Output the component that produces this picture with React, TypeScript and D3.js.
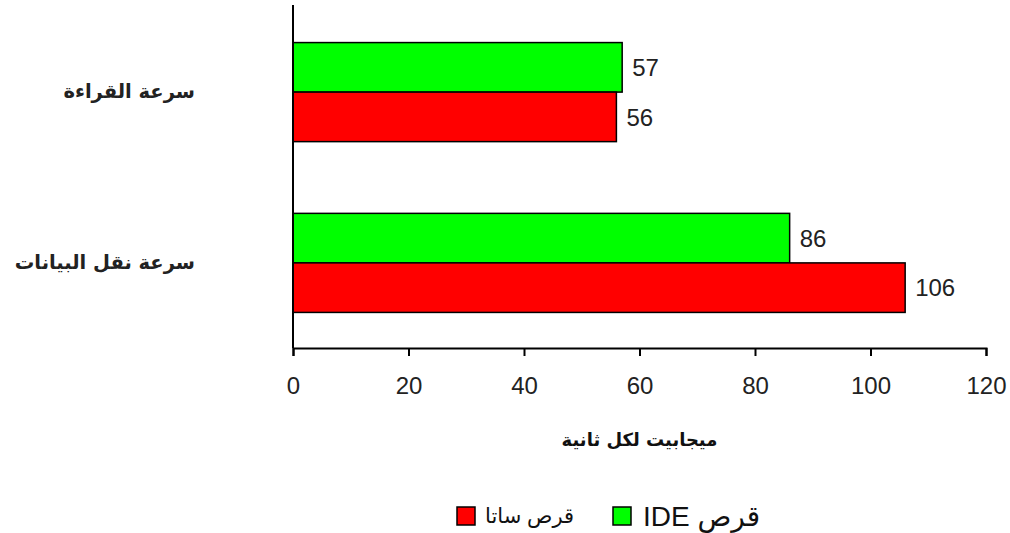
import React, { useEffect, useRef } from 'react';
import * as d3 from 'd3';

// categories (top to bottom)
const categories = ['سرعة القراءة', 'سرعة نقل البيانات'];
// series
const seriesNames = ['قرص IDE', 'قرص ساتا'];
const ideValues = [57, 86];
const sataValues = [56, 106];
const seriesColors = ['#00ff00', '#ff0000'];
const xTicks = [0, 20, 40, 60, 80, 100, 120];
const xTitle = 'ميجابيت لكل ثانية';

export default function App() {
  const svgRef = useRef<SVGSVGElement | null>(null);

  useEffect(() => {
    document.body.style.margin = '0';
    const width = 1010;
    const height = 533;
    const margin = { top: 5, right: 24, bottom: 185, left: 293 };
    const font = "'Liberation Sans', Arial, 'DejaVu Sans', sans-serif";
    const arabic = "'DejaVu Sans', sans-serif";

    const svg = d3.select(svgRef.current);
    svg.selectAll('*').remove();

    const x = d3.scaleLinear()
      .domain([0, 120])
      .range([margin.left, width - margin.right]);

    const y = d3.scaleBand<string>()
      .domain(categories)
      .range([margin.top, height - margin.bottom + 2])
      .paddingInner(0.42)
      .paddingOuter(0.22);

    const ySub = d3.scaleBand<number>()
      .domain([0, 1])
      .range([0, y.bandwidth()]);

    const series = [ideValues, sataValues];

    // bars
    series.forEach((vals, si) => {
      svg.append('g')
        .selectAll('rect')
        .data(vals)
        .join('rect')
        .attr('x', x(0))
        .attr('y', (_, i) => (y(categories[i]) as number) + (ySub(si) as number))
        .attr('width', d => x(d) - x(0))
        .attr('height', ySub.bandwidth())
        .attr('fill', seriesColors[si])
        .attr('stroke', '#000')
        .attr('stroke-width', 1.5);

      // value labels
      svg.append('g')
        .selectAll('text')
        .data(vals)
        .join('text')
        .attr('x', d => x(d) + 10)
        .attr('y', (_, i) => (y(categories[i]) as number) + (ySub(si) as number) + ySub.bandwidth() / 2)
        .attr('dy', '0.36em')
        .attr('font-family', font)
        .attr('font-size', 24)
        .attr('fill', '#222')
        .text(d => d);
    });

    // x axis
    const axisY = height - margin.bottom;
    const xAxis = svg.append('g')
      .attr('transform', `translate(0,${axisY})`)
      .call(d3.axisBottom(x).tickValues(xTicks).tickSize(8).tickPadding(21));
    xAxis.select('.domain').attr('stroke', '#000').attr('stroke-width', 2);
    xAxis.selectAll('.tick line').attr('stroke', '#000').attr('stroke-width', 2);
    xAxis.selectAll('.tick text')
      .attr('font-family', font)
      .attr('font-size', 24)
      .attr('fill', '#222');

    // y axis line (no ticks)
    svg.append('line')
      .attr('x1', x(0)).attr('x2', x(0))
      .attr('y1', margin.top).attr('y2', axisY)
      .attr('stroke', '#000')
      .attr('stroke-width', 2);

    // category labels
    svg.append('g')
      .selectAll('text')
      .data(categories)
      .join('text')
      .attr('x', 195)
      .attr('y', d => (y(d) as number) + y.bandwidth() / 2)
      .attr('dy', '0.3em')
      .attr('text-anchor', 'end')
      .attr('font-family', arabic)
      .attr('font-size', 19.5)
      .attr('font-weight', 'bold')
      .attr('fill', '#222')
      .text(d => d);

    // x title
    svg.append('text')
      .attr('x', (x(0) + x(120)) / 2)
      .attr('y', 440)
      .attr('dy', '0.35em')
      .attr('text-anchor', 'middle')
      .attr('font-family', arabic)
      .attr('font-size', 18)
      .attr('font-weight', 'bold')
      .attr('fill', '#111')
      .text(xTitle);

    // legend (drawn left to right: SATA then IDE)
    const legendOrder = [1, 0];
    const legendX = d3.scalePoint<number>().domain(legendOrder).range([457, 613]);
    const lg = svg.append('g').attr('transform', 'translate(0,516)');
    const item = lg.selectAll('g')
      .data(legendOrder)
      .join('g')
      .attr('transform', d => `translate(${legendX(d)},0)`);
    item.append('rect')
      .attr('x', 0)
      .attr('y', -9)
      .attr('width', 18)
      .attr('height', 18)
      .attr('fill', d => seriesColors[d])
      .attr('stroke', '#000')
      .attr('stroke-width', 1.5);
    item.append('text')
      .attr('x', d => (d === 0 ? 30 : 28))
      .attr('y', 0)
      .attr('dy', '0.35em')
      .attr('direction', 'rtl')
      .attr('text-anchor', 'end')
      .attr('font-family', font)
      .attr('font-size', d => (d === 0 ? 28 : 21))
      .attr('fill', '#111')
      .text(d => seriesNames[d]);
  }, []);

  return <svg ref={svgRef} width={1010} height={533} style={{ display: 'block', background: '#fff' }}></svg>;
}
